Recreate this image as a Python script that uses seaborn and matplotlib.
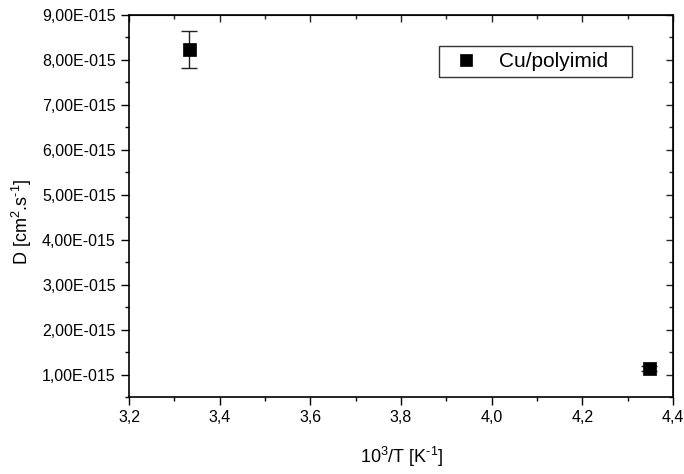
import matplotlib
matplotlib.use('Agg')
import matplotlib.pyplot as plt
import seaborn as sns
import pandas as pd
import numpy as np
from matplotlib.ticker import MultipleLocator, FuncFormatter

inv_t = [3.333, 4.348]          # 10^3/T [K^-1]
diff_d = [8.23e-15, 1.13e-15]   # D [cm^2.s^-1]
diff_err = [0.41e-15, 0.05e-15]
series = ['Cu/polyimid', 'Cu/polyimid']

data = pd.DataFrame({'x': inv_t, 'D': diff_d, 'err': diff_err, 'Labels': series})

sns.set_style('ticks')
plt.rcParams['font.family'] = ['Liberation Sans', 'DejaVu Sans']
plt.rcParams['mathtext.fontset'] = 'custom'
plt.rcParams['mathtext.rm'] = 'Liberation Sans'
plt.rcParams['mathtext.it'] = 'Liberation Sans:italic'
plt.rcParams['text.color'] = 'black'
plt.rcParams['axes.labelcolor'] = 'black'

fig = plt.figure(figsize=(6.84, 4.74), dpi=100)
ax = fig.add_axes([0.1886, 0.1624, 0.7954, 0.8059])

ax.errorbar(data['x'], data['D'], yerr=data['err'], fmt='none', ecolor='#222222',
            elinewidth=1.0, capsize=6, capthick=1.0, zorder=2)
sns.scatterplot(data=data, x='x', y='D', hue='Labels', palette={'Cu/polyimid': 'black'},
                marker='s', s=85, edgecolor='black', linewidth=0.5, ax=ax, zorder=3)

ax.set_xlim(3.2, 4.4)
ax.set_ylim(0.5e-15, 9e-15)
ax.xaxis.set_major_locator(MultipleLocator(0.2))
ax.xaxis.set_minor_locator(MultipleLocator(0.1))
ax.yaxis.set_major_locator(MultipleLocator(1e-15))
ax.yaxis.set_minor_locator(MultipleLocator(0.5e-15))
ax.xaxis.set_major_formatter(FuncFormatter(lambda v, p: f'{v:.1f}'.replace('.', ',')))
ax.yaxis.set_major_formatter(FuncFormatter(lambda v, p: f'{v / 1e-15:.2f}'.replace('.', ',') + 'E-015'))

ax.tick_params(which='major', direction='out', length=6, width=1, labelsize=11.5, colors='black')
ax.tick_params(which='minor', direction='out', length=3, width=1, colors='black')
for sp in ax.spines.values():
    sp.set_linewidth(1.2)
    sp.set_color('black')

# mirrored ticks on top and right, pointing inward
ax_top = ax.secondary_xaxis('top')
ax_top.xaxis.set_major_locator(MultipleLocator(0.2))
ax_top.xaxis.set_minor_locator(MultipleLocator(0.1))
ax_top.tick_params(which='major', direction='in', length=5, width=1, labeltop=False)
ax_top.tick_params(which='minor', direction='in', length=3, width=1)
ax_right = ax.secondary_yaxis('right')
ax_right.yaxis.set_major_locator(MultipleLocator(1e-15))
ax_right.yaxis.set_minor_locator(MultipleLocator(0.5e-15))
ax_right.tick_params(which='major', direction='in', length=5, width=1, labelright=False)
ax_right.tick_params(which='minor', direction='in', length=3, width=1)
ax.yaxis.get_offset_text().set_visible(False)

ax.set_xlabel(r'10$^{3}$/T [K$^{\text{-}1}$]', fontsize=13)
ax.set_ylabel(r'D [cm$^{2}$.s$^{\text{-}1}$]', fontsize=13)
ax.xaxis.set_label_coords(0.502, -0.125)
ax.yaxis.set_label_coords(-0.175, 0.458)

handles, labels = ax.get_legend_handles_labels()
leg = ax.legend(handles, [l + '   ' for l in labels], loc='upper right',
                bbox_to_anchor=(0.9246, 0.919), borderaxespad=0,
                frameon=True, fancybox=False, edgecolor='black', fontsize=15,
                borderpad=0.3, handletextpad=0.58, markerscale=0.9)
leg.get_frame().set_linewidth(1.0)

plt.savefig('out.png', dpi=100)
